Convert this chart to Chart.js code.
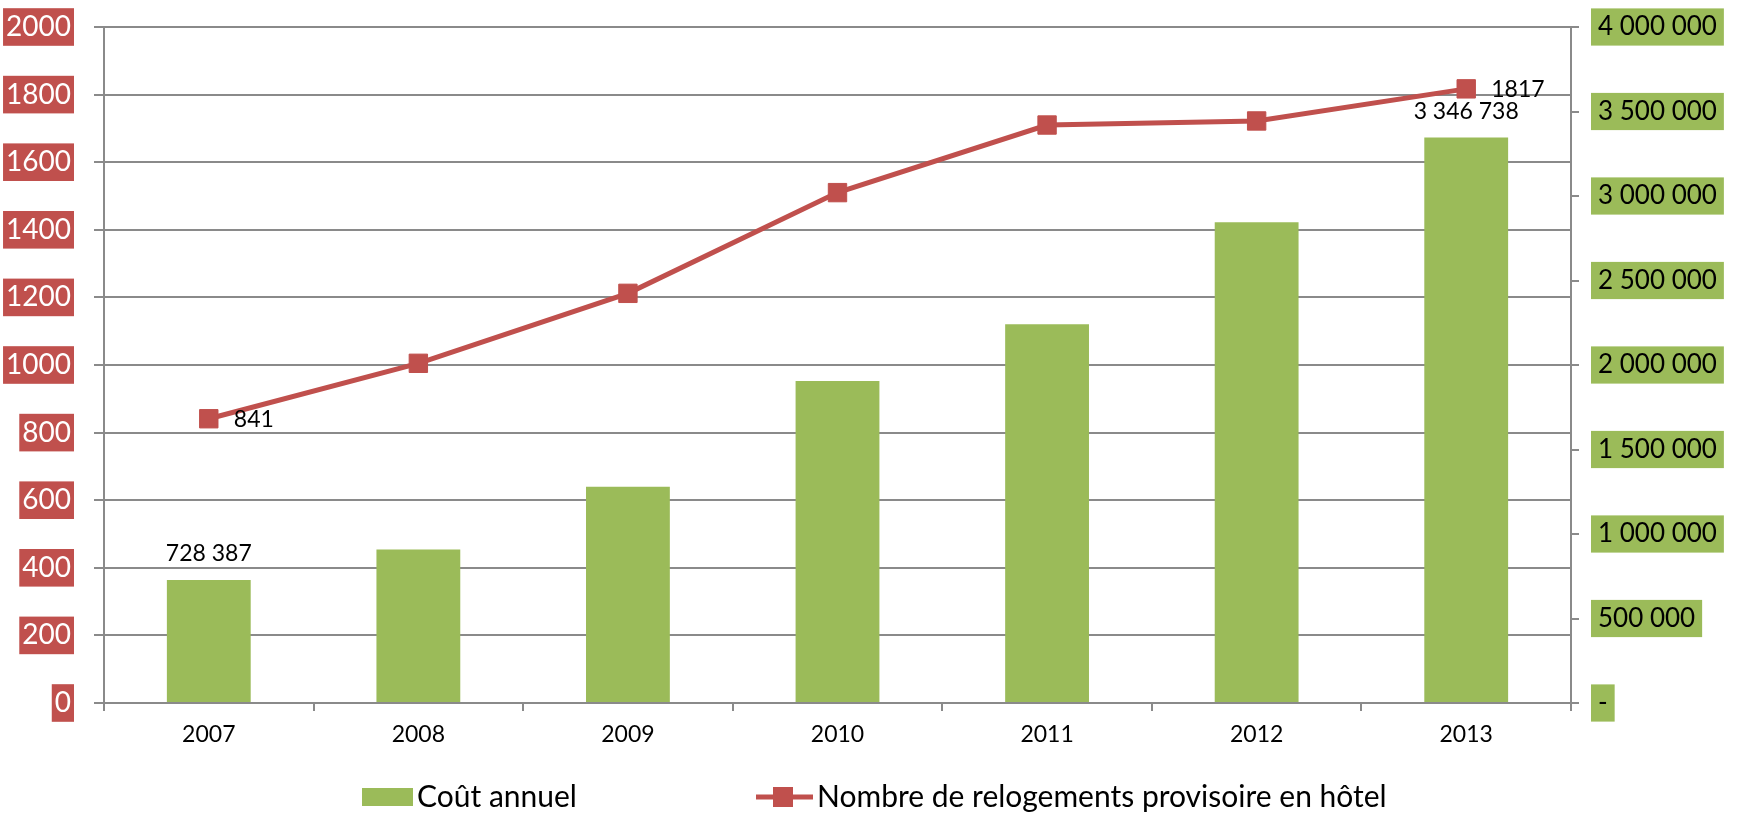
<!DOCTYPE html>
<html>
<head>
<meta charset="utf-8">
<script src="https://cdn.jsdelivr.net/npm/chart.js@4.4.1/dist/chart.umd.min.js"></script>
<style>
  html, body { margin: 0; padding: 0; background: #fff; }
</style>
</head>
<body>
<canvas id="hotelChart" width="1737" height="813"></canvas>
<script>
// données
const years = ['2007', '2008', '2009', '2010', '2011', '2012', '2013'];
const coutAnnuel = [728387, 909000, 1280000, 1905000, 2241000, 2844000, 3346738];
const relogements = [841, 1005, 1212, 1510, 1710, 1722, 1817];
const seriesNames = ['Coût annuel', 'Nombre de relogements provisoire en hôtel'];
const leftTicks = [0, 200, 400, 600, 800, 1000, 1200, 1400, 1600, 1800, 2000];
const rightTicks = [0, 500000, 1000000, 1500000, 2000000, 2500000, 3000000, 3500000, 4000000];
const labelledPoints = [0, 6]; // only first and last carry a value label

const GREEN = '#9BBB59';
const RED = '#C0504D';
const GRID = '#8a8a8a';

function spaced(v) {
  return String(v).replace(/\B(?=(\d{3})+(?!\d))/g, ' ');
}

Chart.defaults.font.family = 'Lato';
Chart.defaults.color = '#000';

// value labels (728 387, 841 ...)
const valueLabels = {
  id: 'valueLabels',
  afterDatasetsDraw(chart) {
    const ctx = chart.ctx;
    const bars = chart.getDatasetMeta(0).data;
    const pts = chart.getDatasetMeta(1).data;
    ctx.save();
    ctx.fillStyle = '#000';
    ctx.font = '23px Lato';
    ctx.textBaseline = 'middle';
    ctx.textAlign = 'center';
    labelledPoints.forEach(i => ctx.fillText(spaced(coutAnnuel[i]), bars[i].x, bars[i].y - 26));
    ctx.textAlign = 'left';
    labelledPoints.forEach(i => ctx.fillText(String(relogements[i]), pts[i].x + 25, pts[i].y + 1));
    ctx.restore();
  }
};

// legend at the bottom, line sample with a square on it
const bottomLegend = {
  id: 'bottomLegend',
  afterDraw(chart) {
    const ctx = chart.ctx;
    const y = 797;
    ctx.save();
    ctx.fillStyle = GREEN;
    ctx.fillRect(362, y - 9, 51, 18);
    ctx.strokeStyle = RED;
    ctx.lineWidth = 5;
    ctx.beginPath();
    ctx.moveTo(756, y);
    ctx.lineTo(813, y);
    ctx.stroke();
    ctx.fillStyle = RED;
    ctx.fillRect(773, y - 10, 20, 20);
    ctx.fillStyle = '#000';
    ctx.font = '30px Lato';
    ctx.textBaseline = 'middle';
    ctx.textAlign = 'left';
    ctx.fillText(seriesNames[0], 417, y);
    ctx.fillText(seriesNames[1], 817, y);
    ctx.restore();
  }
};

// the y axes should not push the plot down because of their label padding
function fixWidth(w) {
  return scale => {
    scale.width = w;
    scale.paddingTop = 0;
    scale.paddingBottom = 0;
  };
}

new Chart(document.getElementById('hotelChart'), {
  data: {
    labels: years,
    datasets: [{
      type: 'bar',
      label: seriesNames[0],
      data: coutAnnuel,
      yAxisID: 'yCout',
      backgroundColor: GREEN,
      categoryPercentage: 1,
      barPercentage: 0.4,
      order: 2
    }, {
      type: 'line',
      label: seriesNames[1],
      data: relogements,
      yAxisID: 'yNombre',
      borderColor: RED,
      backgroundColor: RED,
      borderWidth: 5,
      pointStyle: 'rect',
      pointRadius: 13,
      pointBorderWidth: 1,
      tension: 0,
      order: 1
    }]
  },
  options: {
    responsive: false,
    animation: false,
    layout: { padding: { top: 27, bottom: 60, left: 0, right: 0 } },
    plugins: {
      legend: { display: false },
      tooltip: { enabled: false }
    },
    scales: {
      x: {
        grid: { offset: true, drawOnChartArea: false, color: GRID, lineWidth: 2, tickLength: 8 },
        border: { color: GRID, width: 2 },
        ticks: { font: { size: 23 }, padding: 10 },
        afterFit(scale) { scale.height = 50; }
      },
      yNombre: {
        position: 'left',
        min: 0,
        max: 2000,
        afterBuildTicks(scale) { scale.ticks = leftTicks.map(v => ({ value: v })); },
        grid: { color: GRID, lineWidth: 2, tickLength: 10 },
        border: { color: GRID, width: 2 },
        ticks: {
          font: { size: 28 },
          color: '#fff',
          padding: 23,
          showLabelBackdrop: true,
          backdropColor: RED,
          backdropPadding: { top: 2, bottom: 2, left: 3, right: 3 },
          callback: v => String(v)
        },
        afterFit: fixWidth(104)
      },
      yCout: {
        position: 'right',
        min: 0,
        max: 4000000,
        afterBuildTicks(scale) { scale.ticks = rightTicks.map(v => ({ value: v })); },
        grid: { drawOnChartArea: false, color: GRID, lineWidth: 2, tickLength: 8 },
        border: { color: GRID, width: 2 },
        ticks: {
          font: { size: 26 },
          color: '#000',
          padding: 19,
          showLabelBackdrop: true,
          backdropColor: GREEN,
          backdropPadding: { top: 3, bottom: 3, left: 7, right: 7 },
          callback: v => v === 0 ? '-' : spaced(v)
        },
        afterFit: fixWidth(166)
      }
    }
  },
  plugins: [valueLabels, bottomLegend]
});
</script>
</body>
</html>
